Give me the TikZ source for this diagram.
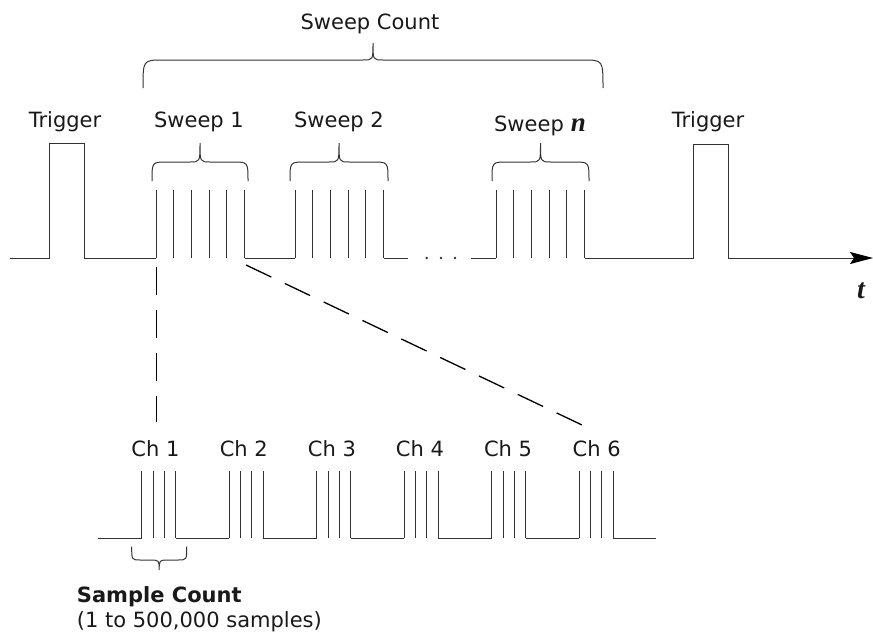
\documentclass[tikz,border=0pt]{standalone}
\usepackage{fontspec}
\setmainfont{DejaVu Sans}
\newfontfamily\varfont{Liberation Serif}
\usetikzlibrary{arrows.meta}
\usetikzlibrary{positioning}
\tikzset{
  wave/.style={draw=black!80, line width=1pt},
  zoomline/.style={draw=black, line width=1.3pt, dash pattern=on 28pt off 15pt},
  sigtext/.style={font=\fontsize{21}{25}\selectfont, inner sep=0pt, anchor=base, text=black!90},
}
% six samples of one sweep, drawn at the origin
\newcommand{\sweepburst}{\foreach \k in {0,...,5}{
					\draw[wave] ({\k*17.7},190) -- ({\k*17.7},258);}}
% four readings of one channel
\newcommand{\chburst}{\foreach \o in {0,11.3,22.6,34}{
					\draw[wave] (\o,471) -- (\o,538);}}
% curly brace: x1, x2, y of the ends, y of the bar, y of the tip, curl
\newcommand{\curly}[6]{\draw[wave] (#1,#3) .. controls (#1,#4) .. ({#1+#6},#4)
	-- ({(#1+#2)/2-10},#4) .. controls ({(#1+#2)/2},#4) .. ({(#1+#2)/2},#5)
	.. controls ({(#1+#2)/2},#4) .. ({(#1+#2)/2+10},#4)
	-- ({#2-#6},#4) .. controls (#2,#4) .. (#2,#3);}

\begin{document}
\begin{tikzpicture}[x=1pt, y=-1pt]
				\useasboundingbox (0,0) rectangle (873,637);

					% top line: triggers and sweeps
					\draw[wave] (10,258) -- (49,258) -- (49,143) -- (84,143) -- (84,258) -- (156,258);
					\draw[wave] (244.5,258) -- (295,258);
					\draw[wave] (383.5,258) -- (408,258);
					\draw[wave] (471,258) -- (496,258);
					\draw[wave, -{Stealth[length=23pt, width=12pt, inset=4pt, black]}] (584.5,258) -- (693,258) -- (693,144)
						-- (728,144) -- (728,258) -- (873,258);

					\begin{scope}[xshift = 156pt]
						\sweepburst
					\end{scope}

					\begin{scope}[xshift = 295pt]
						\sweepburst
					\end{scope}

					\begin{scope}[xshift = 496pt]
						\sweepburst
					\end{scope}

					\foreach \d in {426.7,441,455}
						\fill[black!80] (\d,258) circle [radius=1.3pt];

					\curly{152}{248}{181}{162}{143}{15}
					\curly{290}{388}{181}{162}{143}{15}
					\curly{492}{589}{181}{162}{143}{15}
					\curly{143}{603}{88}{60}{43}{20}

					\node[sigtext] (count) at (370,29) {Sweep Count};
					\node[sigtext] (trig1) at (65,127) {Trigger};
					\node[sigtext] (sweep1) at (199,127) {Sweep 1};
					\node[sigtext] (sweep2) at (339,127) {Sweep 2};
					\node[sigtext] (sweepn) at (540,131.7) {Sweep\hspace{7pt}{\varfont\bfseries\itshape\fontsize{27}{27}\selectfont n}};
					\node[sigtext] (trig2) at (708,127) {Trigger};
					\node[sigtext] (time) at (861,298) {\varfont\bfseries\itshape\fontsize{28}{28}\selectfont t};

					% bottom line: channels
					\draw[wave] (98,538) -- (141.7,538);
					\foreach \k in {0,...,4}
						\draw[wave] ({175.7+87.5*\k},538) -- ({229.2+87.5*\k},538);
					\draw[wave] (613.2,538) -- (656,538);

					\begin{scope}[xshift = 141.7pt]
						\chburst
					\end{scope}

					\begin{scope}[xshift = 229.2pt]
						\chburst
					\end{scope}

					\begin{scope}[xshift = 316.7pt]
						\chburst
					\end{scope}

					\begin{scope}[xshift = 404.2pt]
						\chburst
					\end{scope}

					\begin{scope}[xshift = 491.7pt]
						\chburst
					\end{scope}

					\begin{scope}[xshift = 579.2pt]
						\chburst
					\end{scope}

					\node[sigtext] (ch1) at (155.5,456) {Ch 1};
					\node[sigtext] (ch2) at (243.8,456) {Ch 2};
					\node[sigtext] (ch3) at (332,456) {Ch 3};
					\node[sigtext] (ch4) at (420,456) {Ch 4};
					\node[sigtext] (ch5) at (508,456) {Ch 5};
					\node[sigtext] (ch6) at (596.7,456) {Ch 6};

					\curly{131.7}{186.7}{546.7}{560}{570}{9}

					\node[sigtext, anchor=base west] (samples) at (76.7,602) {\bfseries Sample Count};
					\node[sigtext, anchor=base west] (range) at (76.7,627) {(1 to 500,000 samples)};

					% zoom from sweep 1 down to the channels
					\coordinate (zoomA) at (156.5,267);
					\coordinate (zoomB) at (156.5,422);
					\coordinate (zoomC) at (246,265);
					\coordinate (zoomD) at (582,425);
					\draw[zoomline] (zoomA) -- (zoomB);
					\draw[zoomline] (zoomC) -- (zoomD);

				\end{tikzpicture}
\end{document}
